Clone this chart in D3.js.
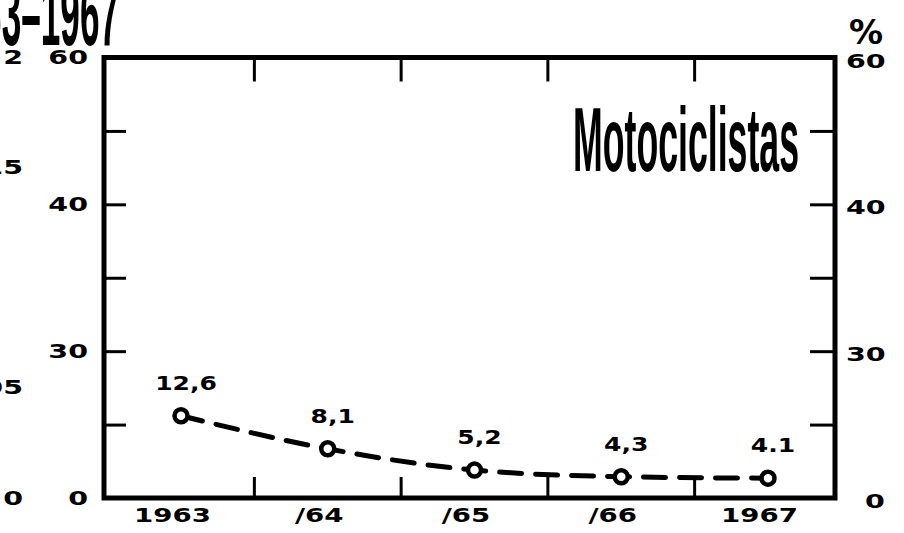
<!DOCTYPE html>
<html>
<head>
<meta charset="utf-8">
<script src="https://cdn.jsdelivr.net/npm/d3@7"></script>
<style>
  html, body { margin: 0; padding: 0; background: #fff; overflow: hidden; }
  svg { display: block; }
</style>
</head>
<body>
<svg id="chart" width="904" height="533"></svg>
<script>
// ---- data -------------------------------------------------------------
const years = ["1963", "1964", "1965", "1966", "1967"];
const yearLabels = ["1963", "/64", "/65", "/66", "1967"];
const values = [12.6, 8.1, 5.2, 4.3, 4.1];
const valueLabels = ["12,6", "8,1", "5,2", "4,3", "4.1"];

// percentage axis: minor ticks every 10, printed labels on every other tick
const yMinorTicks = [10, 20, 30, 40, 50];
const yLabelTicks = [0, 20, 40, 60];
const yLabels = ["0", "30", "40", "60"];

// labels of the neighbouring panel's axis (partly cut at the page edge)
const prevTicks = [0, 0.05, 0.15, 0.2];
const prevLabels = ["0", "05", "15", "2"];

const titleText = "Motociclistas";
const headerText = "1963–1967";
const unitText = "%";

// ---- layout -----------------------------------------------------------
const W = 904, H = 533;
const plot = { left: 104, right: 835, top: 57.5, bottom: 498 };
const ink = "#000";

const svg = d3.select("#chart");
svg.append("rect").attr("width", W).attr("height", H).attr("fill", "#fff");

const x = d3.scalePoint().domain(years).range([181, 768]);
const y = d3.scaleLinear().domain([0, 60]).range([plot.bottom, plot.top]);
// the curve was plotted against a baseline sitting slightly below the frame
const ySeries = d3.scaleLinear().domain([1.4, 61.4]).range([plot.bottom, plot.top]);
const yPrev = d3.scaleLinear().domain([0, 0.2]).range([plot.bottom, plot.top]);

// widen glyphs horizontally (the print uses a very wide geometric face)
function stretch(sel, k) {
  sel.each(function () {
    const w = this.getComputedTextLength();
    d3.select(this).attr("textLength", w * k).attr("lengthAdjust", "spacingAndGlyphs");
  });
}

const numFont = "'DejaVu Sans', Verdana, sans-serif";
const condFont = "'Liberation Sans Narrow', 'Liberation Sans', Arial, sans-serif";

// ---- header fragment and title ---------------------------------------
svg.append("text")
  .attr("x", -57).attr("y", 45)
  .attr("font-family", condFont).attr("font-weight", "bold")
  .attr("font-size", 90).attr("fill", ink)
  .attr("textLength", 176).attr("lengthAdjust", "spacingAndGlyphs")
  .text(headerText);

svg.append("text")
  .attr("x", 573).attr("y", 171)
  .attr("font-family", condFont).attr("font-weight", "bold")
  .attr("font-size", 90).attr("fill", ink)
  .attr("textLength", 226).attr("lengthAdjust", "spacingAndGlyphs")
  .text(titleText);

// ---- frame ------------------------------------------------------------
svg.append("rect")
  .attr("x", plot.left).attr("y", plot.top)
  .attr("width", plot.right - plot.left).attr("height", plot.bottom - plot.top)
  .attr("fill", "none").attr("stroke", ink).attr("stroke-width", 5);

// inward ticks on both vertical sides
function cleanTicks(g, w) {
  g.select(".domain").remove();
  g.selectAll(".tick line").attr("stroke", ink).attr("stroke-width", w);
}
svg.append("g").attr("transform", `translate(${plot.left},0)`)
  .call(d3.axisLeft(y).tickValues(yMinorTicks).tickSize(-22).tickFormat(""))
  .call(g => cleanTicks(g, 3));
svg.append("g").attr("transform", `translate(${plot.right},0)`)
  .call(d3.axisRight(y).tickValues(yMinorTicks).tickSize(-25).tickFormat(""))
  .call(g => cleanTicks(g, 3));

// year separators: ticks halfway between categories, top and bottom
const mids = d3.pairs(years.map(d => x(d))).map(([a, b]) => (a + b) / 2);
const sep = svg.append("g").attr("stroke", ink).attr("stroke-width", 3);
sep.selectAll("line.top").data(mids).join("line").attr("class", "top")
  .attr("x1", d => d).attr("x2", d => d)
  .attr("y1", plot.top).attr("y2", plot.top + 24);
sep.selectAll("line.bot").data(mids).join("line").attr("class", "bot")
  .attr("x1", d => d).attr("x2", d => d)
  .attr("y1", plot.bottom).attr("y2", plot.bottom - 21);

// ---- axis labels --------------------------------------------------------
function labelStyle(g, size) {
  g.select(".domain").remove();
  g.selectAll(".tick line").remove();
  g.selectAll("text")
    .attr("font-family", numFont).attr("font-weight", "bold")
    .attr("font-size", size).attr("fill", ink);
}

svg.append("g").attr("transform", `translate(${plot.left},0)`)
  .call(d3.axisLeft(y).tickValues(yLabelTicks).tickSize(0).tickPadding(16)
    .tickFormat((d, i) => yLabels[i]))
  .call(g => labelStyle(g, 19))
  .call(g => stretch(g.selectAll("text"), 1.5));

svg.append("g").attr("transform", `translate(${plot.right},0)`)
  .call(d3.axisRight(y).tickValues(yLabelTicks).tickSize(0).tickPadding(11)
    .tickFormat((d, i) => yLabels[i]))
  .call(g => labelStyle(g, 19))
  .call(g => g.selectAll("text").attr("dy", "0.5em").attr("dx", d => d === 0 ? 19 : 0))
  .call(g => stretch(g.selectAll("text"), 1.5));

svg.append("g").attr("transform", "translate(23,0)")
  .call(d3.axisLeft(yPrev).tickValues(prevTicks).tickSize(0).tickPadding(0)
    .tickFormat((d, i) => prevLabels[i]))
  .call(g => labelStyle(g, 19))
  .call(g => stretch(g.selectAll("text"), 1.5));

svg.append("text")
  .attr("x", 866).attr("y", 44).attr("text-anchor", "middle")
  .attr("font-family", numFont).attr("font-weight", "bold")
  .attr("font-size", 34).attr("fill", ink)
  .text(unitText);

svg.append("g").attr("transform", `translate(0,${plot.bottom})`)
  .call(d3.axisBottom(x).tickSize(0).tickPadding(10)
    .tickFormat((d, i) => yearLabels[i]))
  .call(g => labelStyle(g, 20))
  .call(g => g.selectAll("text").attr("dx", -9))
  .call(g => stretch(g.selectAll("text"), 1.38));

// ---- series -------------------------------------------------------------
const pts = years.map((yr, i) => ({ yr, v: values[i], label: valueLabels[i] }));

svg.append("path")
  .datum(pts)
  .attr("fill", "none").attr("stroke", ink)
  .attr("stroke-width", 5).attr("stroke-linecap", "round")
  .attr("stroke-dasharray", "22 14")
  .attr("d", d3.line().x(d => x(d.yr)).y(d => ySeries(d.v)).curve(d3.curveMonotoneX));

svg.append("g").selectAll("circle").data(pts).join("circle")
  .attr("cx", d => x(d.yr)).attr("cy", d => ySeries(d.v))
  .attr("r", 6.5).attr("fill", "#fff")
  .attr("stroke", ink).attr("stroke-width", 4.5);

svg.append("g").selectAll("text").data(pts).join("text")
  .attr("x", d => x(d.yr) + 5).attr("y", d => ySeries(d.v) - 26)
  .attr("text-anchor", "middle")
  .attr("font-family", numFont).attr("font-weight", "bold")
  .attr("font-size", 20).attr("fill", ink)
  .text(d => d.label)
  .call(s => stretch(s, 1.25));
</script>
</body>
</html>
